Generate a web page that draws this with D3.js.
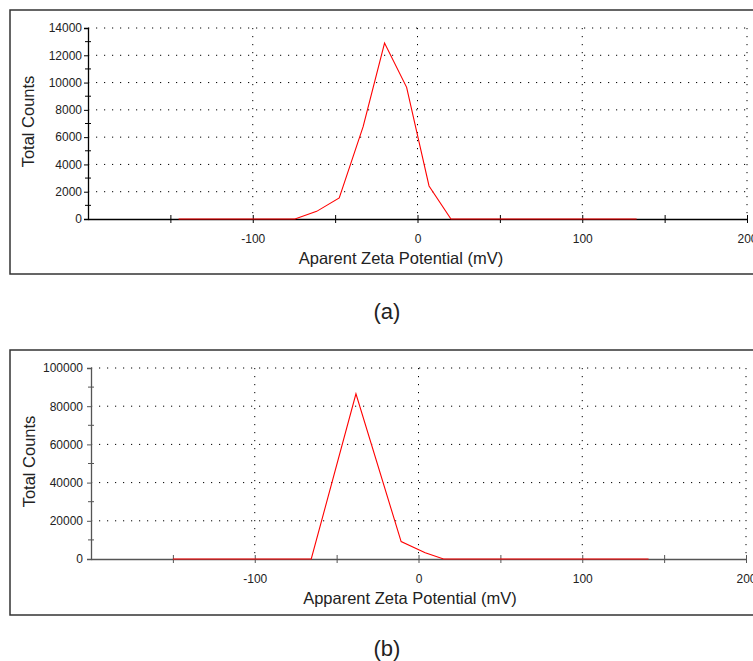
<!DOCTYPE html>
<html>
<head>
<meta charset="utf-8">
<script src="https://cdn.jsdelivr.net/npm/d3@7"></script>
<style>
  body { margin: 0; background: #fff; }
  svg text { font-family: "Liberation Sans", Arial, sans-serif; }
</style>
</head>
<body>
<div id="chart"></div>
<script>
// panel (a) - zeta potential distribution
const potA = [-145, -74.4, -61.2, -47.5, -33, -20, -6.6, 7.0, 20.3, 133];
const countsA = [0, 0, 560, 1550, 6770, 12900, 9650, 2420, 0, 0];
const yTicksA = [0, 2000, 4000, 6000, 8000, 10000, 12000, 14000];

// panel (b)
const potB = [-150, -65.5, -38.2, -10.6, 4.1, 15.3, 140.5];
const countsB = [0, 0, 86500, 9100, 3300, 0, 0];
const yTicksB = [0, 20000, 40000, 60000, 80000, 100000];

const xTicks = [-150, -100, -50, 0, 50, 100, 150, 200];
const xLabels = [-100, 0, 100, 200];
const xGrid = [-100, 0, 100, 200];

const svg = d3.select("#chart")
  .append("svg")
    .attr("width", 753)
    .attr("height", 661)

function drawPanel(opt) {
  const g = svg.append("g")

  // outer frame (right side runs off the page)
  g.append("rect")
    .attr("x", 10).attr("y", opt.boxTop)
    .attr("width", 760).attr("height", opt.boxH)
    .attr("fill", "none")
    .attr("stroke", "#333")
    .attr("stroke-width", 1.5)

  const x = d3.scaleLinear().domain([-200, 200]).range([opt.left, opt.right])
  const y = d3.scaleLinear().domain([0, opt.yMax]).range([opt.bottom, opt.top])

  // dotted grid
  g.selectAll(".hgrid")
    .data(opt.yTicks.filter(d => d > 0))
    .enter().append("line")
      .attr("x1", opt.left).attr("x2", opt.right)
      .attr("y1", d => y(d)).attr("y2", d => y(d))
      .attr("stroke", "#000")
      .attr("stroke-dasharray", "1.2,6.8")

  g.selectAll(".vgrid")
    .data(xGrid)
    .enter().append("line")
      .attr("x1", d => x(d)).attr("x2", d => x(d))
      .attr("y1", opt.top).attr("y2", opt.bottom)
      .attr("stroke", "#000")
      .attr("stroke-dasharray", "1.2,6.8")

  // y axis
  const yAxis = g.append("g")
    .attr("transform", `translate(${opt.left},0)`)
    .call(d3.axisLeft(y).tickValues(opt.yTicks).tickSize(4).tickPadding(opt.yPad).tickFormat(d3.format("d")))
  yAxis.select(".domain").attr("stroke", opt.axisColor).attr("stroke-width", 1.3)
  yAxis.selectAll(".tick line").attr("stroke", opt.axisColor)
  yAxis.selectAll("text").attr("font-size", 12).attr("fill", "#222")

  // minor y ticks
  const step = opt.yTicks[1] - opt.yTicks[0]
  g.selectAll(".minor")
    .data(opt.yTicks.slice(1).map(d => d - step / 2))
    .enter().append("line")
      .attr("x1", opt.left - 3).attr("x2", opt.left + 3)
      .attr("y1", d => y(d)).attr("y2", d => y(d))
      .attr("stroke", opt.axisColor)

  // x axis
  const xAxis = g.append("g")
    .attr("transform", `translate(0,${opt.bottom})`)
    .call(d3.axisBottom(x).tickValues(xTicks).tickSizeOuter(0)
      .tickFormat(d => xLabels.includes(d) ? d : ""))
  xAxis.select(".domain").attr("stroke", opt.axisColor).attr("stroke-width", 1.5)
  xAxis.selectAll(".tick line").attr("y1", -4).attr("y2", 4).attr("stroke", opt.axisColor)
  xAxis.selectAll("text").attr("y", 24).attr("dy", 0)
    .attr("font-size", 12).attr("fill", "#222")

  // data line
  const line = d3.line()
    .x(d => x(d[0]))
    .y(d => y(d[1]))
  g.append("path")
    .datum(d3.zip(opt.pot, opt.counts))
    .attr("d", line)
    .attr("fill", "none")
    .attr("stroke", "#f00")
    .attr("stroke-width", 1.1)

  // axis titles
  g.append("text")
    .attr("transform", `translate(${opt.yTitleX},${(opt.top + opt.bottom) / 2 - 2}) rotate(-90)`)
    .attr("text-anchor", "middle")
    .attr("font-size", 16.5)
    .attr("fill", "#222")
    .text("Total Counts")

  g.append("text")
    .attr("x", opt.xTitleX).attr("y", opt.bottom + 45)
    .attr("text-anchor", "middle")
    .attr("font-size", 16.5)
    .attr("fill", "#222")
    .text(opt.xTitle)

  g.append("text")
    .attr("x", 387).attr("y", opt.capY)
    .attr("text-anchor", "middle")
    .attr("font-size", 22)
    .attr("fill", "#222")
    .text(opt.caption)
}

drawPanel({
  boxTop: 10, boxH: 264,
  left: 88, right: 747, top: 28, bottom: 219,
  yMax: 14000, yTicks: yTicksA, yPad: 2,
  pot: potA, counts: countsA,
  axisColor: "#000",
  yTitleX: 34, xTitleX: 401,
  xTitle: "Aparent Zeta Potential (mV)",
  caption: "(a)", capY: 319
})

drawPanel({
  boxTop: 350, boxH: 265,
  left: 91, right: 746, top: 368, bottom: 559,
  yMax: 100000, yTicks: yTicksB, yPad: 4,
  pot: potB, counts: countsB,
  axisColor: "#555",
  yTitleX: 35, xTitleX: 410,
  xTitle: "Apparent Zeta Potential (mV)",
  caption: "(b)", capY: 656
})
</script>
</body>
</html>
